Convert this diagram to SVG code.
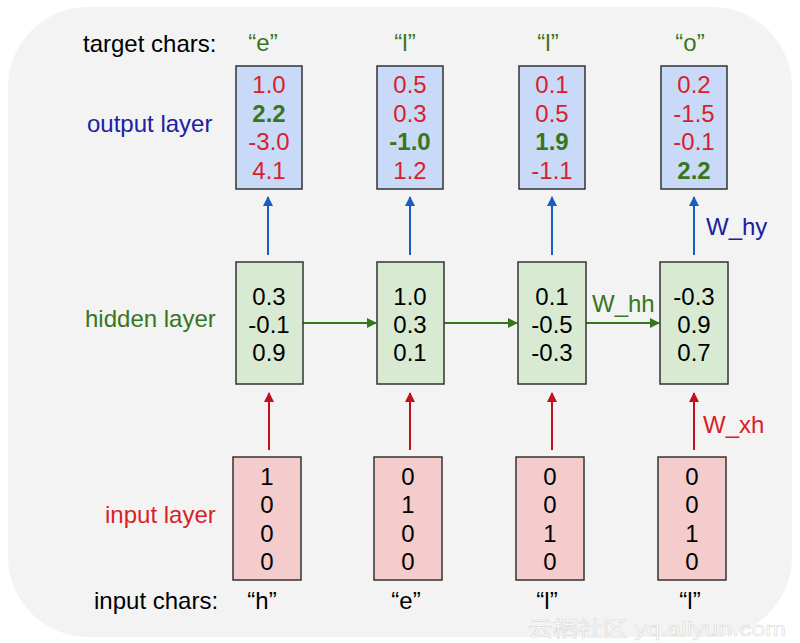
<svg xmlns="http://www.w3.org/2000/svg" width="800" height="643" viewBox="0 0 800 643">
<defs>
<style>
text{font-family:"Liberation Sans",Arial,sans-serif;font-size:24px}
.box{stroke:#333;stroke-width:1.5}
.out{fill:#c9daf8}
.hid{fill:#d9ead3}
.inp{fill:#f4cccc}
.v{text-anchor:middle}
.r{fill:#d81f2a}
.g{fill:#38761d}
.b{font-weight:bold}
.k{fill:#000}
.ab{stroke:#1a5cc4;stroke-width:2;fill:none}
.ar{stroke:#c4101c;stroke-width:2;fill:none}
.ag{stroke:#38761d;stroke-width:2;fill:none}
</style>
<marker id="mb" viewBox="0 0 10 10" refX="9" refY="5" markerWidth="5" markerHeight="5" orient="auto" markerUnits="strokeWidth"><path d="M0,0L10,5L0,10z" fill="#1a5cc4"/></marker>
<marker id="mr" viewBox="0 0 10 10" refX="9" refY="5" markerWidth="5" markerHeight="5" orient="auto" markerUnits="strokeWidth"><path d="M0,0L10,5L0,10z" fill="#c4101c"/></marker>
<marker id="mg" viewBox="0 0 10 10" refX="9" refY="5" markerWidth="5" markerHeight="5" orient="auto" markerUnits="strokeWidth"><path d="M0,0L10,5L0,10z" fill="#38761d"/></marker>
</defs>
<rect x="0" y="0" width="800" height="643" fill="#fff"/>
<rect x="8" y="7" width="784" height="630" rx="80" ry="80" fill="#f3f3f3"/>

<g id="labels">
<text x="83" y="52" class="k">target chars:</text>
<text x="87" y="132" fill="#2020a0">output layer</text>
<text x="85" y="327" class="g">hidden layer</text>
<text x="105" y="523" class="r">input layer</text>
<text x="94" y="609" class="k">input chars:</text>
</g>

<g id="target-chars">
<text x="263" y="51" class="v g">“e”</text>
<text x="405" y="51" class="v g">“l”</text>
<text x="548" y="51" class="v g">“l”</text>
<text x="690" y="51" class="v g">“o”</text>
</g>

<g id="connectors">
<line x1="268" y1="255" x2="268" y2="197" class="ab" marker-end="url(#mb)"/>
<line x1="410" y1="255" x2="410" y2="197" class="ab" marker-end="url(#mb)"/>
<line x1="552" y1="255" x2="552" y2="197" class="ab" marker-end="url(#mb)"/>
<line x1="694" y1="255" x2="694" y2="197" class="ab" marker-end="url(#mb)"/>
<line x1="269" y1="450" x2="269" y2="393" class="ar" marker-end="url(#mr)"/>
<line x1="410" y1="450" x2="410" y2="393" class="ar" marker-end="url(#mr)"/>
<line x1="552" y1="450" x2="552" y2="393" class="ar" marker-end="url(#mr)"/>
<line x1="694" y1="450" x2="694" y2="393" class="ar" marker-end="url(#mr)"/>
<line x1="303" y1="323" x2="376" y2="323" class="ag" marker-end="url(#mg)"/>
<line x1="444" y1="323" x2="517" y2="323" class="ag" marker-end="url(#mg)"/>
<line x1="586" y1="323" x2="659" y2="323" class="ag" marker-end="url(#mg)"/>
<text x="706" y="235" fill="#2020a0">W_hy</text>
<text x="592" y="312" class="g">W_hh</text>
<text x="703" y="433" class="r">W_xh</text>
</g>

<g id="out1">
<rect x="236" y="66" width="66" height="123" class="box out"/>
<text x="269" y="93" class="v r">1.0</text>
<text x="269" y="122" class="v g b">2.2</text>
<text x="269" y="150" class="v r">-3.0</text>
<text x="269" y="179" class="v r">4.1</text>
</g>
<g id="out2">
<rect x="377" y="66" width="66" height="123" class="box out"/>
<text x="410" y="93" class="v r">0.5</text>
<text x="410" y="122" class="v r">0.3</text>
<text x="410" y="150" class="v g b">-1.0</text>
<text x="410" y="179" class="v r">1.2</text>
</g>
<g id="out3">
<rect x="519" y="66" width="66" height="123" class="box out"/>
<text x="552" y="93" class="v r">0.1</text>
<text x="552" y="122" class="v r">0.5</text>
<text x="552" y="150" class="v g b">1.9</text>
<text x="552" y="179" class="v r">-1.1</text>
</g>
<g id="out4">
<rect x="661" y="66" width="66" height="123" class="box out"/>
<text x="694" y="93" class="v r">0.2</text>
<text x="694" y="122" class="v r">-1.5</text>
<text x="694" y="150" class="v r">-0.1</text>
<text x="694" y="179" class="v g b">2.2</text>
</g>

<g id="hid1">
<rect x="236" y="262" width="67" height="122" class="box hid"/>
<text x="269" y="305" class="v k">0.3</text>
<text x="269" y="333" class="v k">-0.1</text>
<text x="269" y="361" class="v k">0.9</text>
</g>
<g id="hid2">
<rect x="377" y="262" width="67" height="122" class="box hid"/>
<text x="410" y="305" class="v k">1.0</text>
<text x="410" y="333" class="v k">0.3</text>
<text x="410" y="361" class="v k">0.1</text>
</g>
<g id="hid3">
<rect x="518" y="262" width="68" height="122" class="box hid"/>
<text x="552" y="305" class="v k">0.1</text>
<text x="552" y="333" class="v k">-0.5</text>
<text x="552" y="361" class="v k">-0.3</text>
</g>
<g id="hid4">
<rect x="660" y="262" width="68" height="122" class="box hid"/>
<text x="694" y="305" class="v k">-0.3</text>
<text x="694" y="333" class="v k">0.9</text>
<text x="694" y="361" class="v k">0.7</text>
</g>

<g id="in1">
<rect x="233" y="457" width="68" height="123" class="box inp"/>
<text x="267" y="485" class="v k">1</text>
<text x="267" y="513" class="v k">0</text>
<text x="267" y="542" class="v k">0</text>
<text x="267" y="570" class="v k">0</text>
</g>
<g id="in2">
<rect x="374" y="457" width="68" height="123" class="box inp"/>
<text x="408" y="485" class="v k">0</text>
<text x="408" y="513" class="v k">1</text>
<text x="408" y="542" class="v k">0</text>
<text x="408" y="570" class="v k">0</text>
</g>
<g id="in3">
<rect x="516" y="457" width="68" height="123" class="box inp"/>
<text x="550" y="485" class="v k">0</text>
<text x="550" y="513" class="v k">0</text>
<text x="550" y="542" class="v k">1</text>
<text x="550" y="570" class="v k">0</text>
</g>
<g id="in4">
<rect x="658" y="457" width="68" height="123" class="box inp"/>
<text x="692" y="485" class="v k">0</text>
<text x="692" y="513" class="v k">0</text>
<text x="692" y="542" class="v k">1</text>
<text x="692" y="570" class="v k">0</text>
</g>

<g id="input-chars">
<text x="262" y="609" class="v k">“h”</text>
<text x="406" y="609" class="v k">“e”</text>
<text x="547" y="609" class="v k">“l”</text>
<text x="690" y="609" class="v k">“l”</text>
</g>

<text x="528" y="636" fill="#fff" stroke="#d8d8d8" stroke-width="0.6" style="font-family:'Liberation Sans','Noto Sans CJK SC',sans-serif;font-size:21px" textLength="258" lengthAdjust="spacingAndGlyphs" opacity="0.9">云栖社区 yq.aliyun.com</text>
</svg>
